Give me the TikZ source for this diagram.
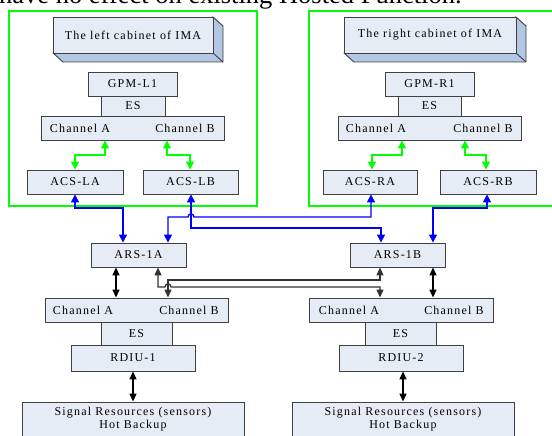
\documentclass[tikz,border=0pt]{standalone}
\usepackage{fontspec}
\setmainfont{Liberation Serif}
\newfontfamily\lsfont{Liberation Serif}[LetterSpace=10]
\usetikzlibrary{arrows.meta}
\definecolor{boxfill}{HTML}{E6ECF6}
\definecolor{boxline}{HTML}{404040}
\definecolor{sidefill}{HTML}{B3C6E3}
\definecolor{grn}{HTML}{00FF00}
\definecolor{blu}{HTML}{0000FF}
\begin{document}
\begin{tikzpicture}[x=1pt,y=-1pt,
  blk/.style={draw=boxline,fill=boxfill,line width=0.9pt,inner sep=0pt,minimum height=24pt,font=\lsfont\fontsize{12}{14}\selectfont},
  lbl/.style={inner sep=0pt,font=\lsfont\fontsize{12}{13}\selectfont,align=center},
  side/.style={draw=boxline,fill=sidefill,line width=0.9pt,line join=round},
  cab/.style={draw=grn,line width=2pt},
  garr/.style={draw=grn,line width=1.3pt,>={Triangle[length=8pt,width=8pt]},<->},
  barr/.style={draw=blu,line width=1.4pt,>={Triangle[length=8pt,width=8pt]},<->},
  karr/.style={draw=black,line width=1.4pt,>={Triangle[length=8pt,width=7pt]},<->},
  kgarr/.style={draw=black!80,line width=1.3pt,>={Triangle[length=8pt,width=7pt]},<->}
]
\useasboundingbox (0,0) rectangle (552,436);
\clip (0,0) rectangle (552,436);
\fill[white] (0,0) rectangle (552,436);

% cut-off page text
\node[anchor=base west,inner sep=0pt,font=\fontsize{26.5}{30}\selectfont] (pagetxt) at (-1,4) {have no effect on existing Hosted Function.};

% green cabinets
\draw[cab] (9,11) rectangle (257,206);
\draw[cab] (309,11) rectangle (558,206);

% 3D cabinet titles (depth first, front face on top)
\draw[side] (213,17) -- (223,26) -- (223,62) -- (63,62) -- (53,53) -- cycle;
\draw[draw=boxline,line width=0.9pt] (213,53) -- (223,62);
\node[blk,minimum width=160pt,minimum height=36pt] (cabL) at (133,35) {The left cabinet of IMA};
\draw[side] (516,17) -- (526,26) -- (526,62) -- (354,62) -- (344,53) -- cycle;
\draw[draw=boxline,line width=0.9pt] (516,53) -- (526,62);
\node[blk,minimum width=172pt,minimum height=36pt] (cabR) at (430,35) {The right cabinet of IMA};

% left cabinet
\node[blk,minimum width=89pt] (gpmL) at (132.5,84) {GPM-L1};
\node[blk,minimum width=64pt,minimum height=20pt] (esL) at (133,106) {ES};
\node[blk,minimum width=183pt] (chL) at (132.5,128) {};
\node[lbl] (chLa) at (80,128) {Channel A};
\node[lbl] (chLb) at (185,128) {Channel B};
\node[blk,minimum width=96pt] (acsLA) at (75,182) {ACS-LA};
\node[blk,minimum width=95pt] (acsLB) at (190.5,182) {ACS-LB};

% right cabinet
\node[blk,minimum width=89pt] (gpmR) at (429.5,84) {GPM-R1};
\node[blk,minimum width=63pt,minimum height=20pt] (esR) at (429.5,106) {ES};
\node[blk,minimum width=183pt] (chR) at (429.5,128) {};
\node[lbl] (chRa) at (376,128) {Channel A};
\node[lbl] (chRb) at (483,128) {Channel B};
\node[blk,minimum width=94pt] (acsRA) at (370,182) {ACS-RA};
\node[blk,minimum width=96pt] (acsRB) at (488,182) {ACS-RB};

% ARS switches
\node[blk,minimum width=95pt] (arsA) at (138.5,255) {ARS-1A};
\node[blk,minimum width=95pt] (arsB) at (397.5,255) {ARS-1B};

% lower left
\node[blk,minimum width=183pt] (chLL) at (136.5,310) {};
\node[lbl] (chLLa) at (83,310) {Channel A};
\node[lbl] (chLLb) at (189,310) {Channel B};
\node[blk,minimum width=71pt,minimum height=23pt] (esLL) at (136.5,333.5) {ES};
\node[blk,minimum width=124pt,minimum height=26pt] (rdiu1) at (133,358) {RDIU-1};
\node[blk,minimum width=222pt,minimum height=48pt] (sig1) at (133,426) {};
\node[lbl] (sig1t) at (133,419.5) {Signal Resources (sensors)\\Hot Backup};

% lower right
\node[blk,minimum width=184pt] (chRL) at (401,310) {};
\node[lbl] (chRLa) at (349,310) {Channel A};
\node[lbl] (chRLb) at (454,310) {Channel B};
\node[blk,minimum width=71pt,minimum height=23pt] (esRL) at (400.5,333.5) {ES};
\node[blk,minimum width=124pt,minimum height=26pt] (rdiu2) at (401,358) {RDIU-2};
\node[blk,minimum width=222pt,minimum height=48pt] (sig2) at (403,426) {};
\node[lbl] (sig2t) at (403,419.5) {Signal Resources (sensors)\\Hot Backup};

% green arrows
\draw[garr] (105,0 |- chL.south) -- (105,155) -- (75,155) -- (75,0 |- acsLA.north);
\draw[garr] (167,0 |- chL.south) -- (167,155) -- (190,155) -- (190,0 |- acsLB.north);
\draw[garr] (402,0 |- chR.south) -- (402,155) -- (372,155) -- (372,0 |- acsRA.north);
\draw[garr] (465,0 |- chR.south) -- (465,155) -- (486,155) -- (486,0 |- acsRB.north);

% blue arrows
\draw[barr] (75,0 |- acsLA.south) -- (75,208) -- (123,208) -- (123,0 |- arsA.north);
\draw[barr] (191,0 |- acsLB.south) -- (191,228) -- (381,228) -- (381,0 |- arsB.north);
\draw[barr] (371,0 |- acsRA.south) -- (371,217) -- (194,217) .. controls (194,213) and (188,213) .. (188,217) -- (168,217) -- (168,0 |- arsA.north);
\draw[barr] (487,0 |- acsRB.south) -- (487,208) -- (433,208) -- (433,0 |- arsB.north);

% black arrows
\draw[karr] (116,0 |- arsA.south) -- (116,0 |- chLL.north);
\draw[karr] (433,0 |- arsB.south) -- (433,0 |- chRL.north);
\draw[kgarr] (168,0 |- chLL.north) -- (168,280) -- (380,280) -- (380,0 |- arsB.south);
\draw[kgarr] (158,0 |- arsA.south) -- (158,287) -- (165,287) .. controls (165,283) and (171,283) .. (171,287) -- (380,287) -- (380,0 |- chRL.north);
\draw[karr] (133,0 |- rdiu1.south) -- (133,0 |- sig1.north);
\draw[karr] (403,0 |- rdiu2.south) -- (403,0 |- sig2.north);
\end{tikzpicture}
\end{document}
